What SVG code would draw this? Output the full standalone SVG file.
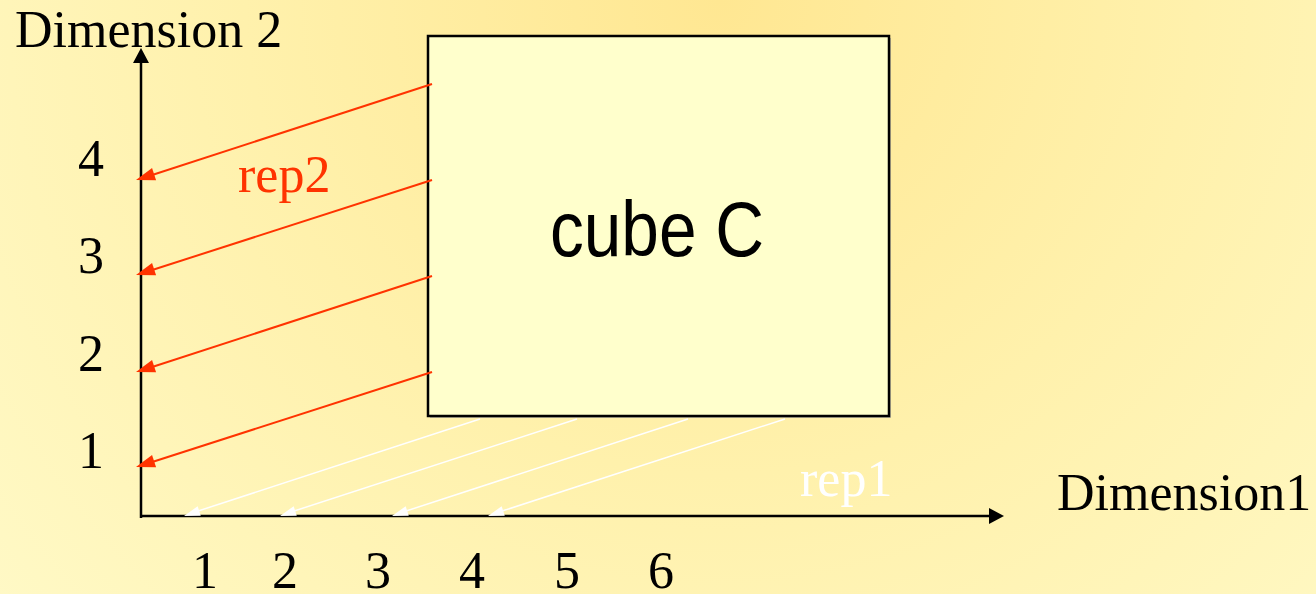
<svg xmlns="http://www.w3.org/2000/svg" width="1316" height="594" viewBox="0 0 1316 594">
<style>
.serif{font-family:"Liberation Serif","Times New Roman",serif;font-size:52px;fill:#000}
.red{fill:#FF3300}
.white{fill:#FFFFFF}
.rline{stroke:#FF3300;stroke-width:2;fill:none}
.wline{stroke:#FFFFFF;stroke-width:1.5;fill:none}
.axis{stroke:#000;stroke-width:2.5;fill:none}
</style>
<defs>
<radialGradient id="bg" gradientUnits="userSpaceOnUse" cx="720" cy="0" r="950">
<stop offset="0" stop-color="#FFE792"/>
<stop offset="0.5" stop-color="#FFF1AC"/>
<stop offset="1" stop-color="#FFF9C6"/>
</radialGradient>
<path id="headRed" d="M0,0 L19,-6.5 L19,6.5 Z" fill="#FF3300"/>
<path id="headWhite" d="M0,0 L16,-5 L16,5 Z" fill="#FFFFFF"/>
<path id="headUp" d="M0,0 L-8,15 L8,15 Z" fill="#000"/>
<path id="headRight" d="M0,0 L-15,-8 L-15,8 Z" fill="#000"/>
</defs>
<rect x="0" y="0" width="1316" height="594" fill="url(#bg)"/>

<g id="cube">
<rect x="430" y="38" width="461" height="380" fill="#999" opacity="0.6"/>
<rect x="428" y="36" width="461" height="380" fill="#FFFFCC" stroke="#000" stroke-width="2.5"/>
<text x="657" y="256" text-anchor="middle" font-family="'Liberation Sans',Arial,sans-serif" font-size="78" textLength="214" lengthAdjust="spacingAndGlyphs">cube C</text>
</g>

<g id="connectors">
<line class="axis" x1="141" y1="518" x2="141" y2="58"/>
<use href="#headUp" x="141" y="48"/>
<line class="axis" x1="140" y1="516" x2="992" y2="516"/>
<use href="#headRight" x="1004" y="516"/>

<line class="rline" x1="432" y1="84" x2="146" y2="177"/>
<use href="#headRed" transform="translate(136,180) rotate(-18)"/>
<line class="rline" x1="432" y1="180" x2="146" y2="272"/>
<use href="#headRed" transform="translate(136,275) rotate(-18)"/>
<line class="rline" x1="432" y1="276" x2="146" y2="369"/>
<use href="#headRed" transform="translate(136,372) rotate(-18)"/>
<line class="rline" x1="432" y1="372" x2="146" y2="464"/>
<use href="#headRed" transform="translate(136,467) rotate(-18)"/>

<line class="wline" x1="480" y1="419" x2="192" y2="513"/>
<use href="#headWhite" transform="translate(184,516) rotate(-18.1)"/>
<line class="wline" x1="577" y1="419" x2="288" y2="513"/>
<use href="#headWhite" transform="translate(280,516) rotate(-18.1)"/>
<line class="wline" x1="688" y1="419" x2="400" y2="513"/>
<use href="#headWhite" transform="translate(392,516) rotate(-18.1)"/>
<line class="wline" x1="785" y1="419" x2="496" y2="513"/>
<use href="#headWhite" transform="translate(488,516) rotate(-18.1)"/>
</g>

<g id="labels">
<text class="serif" x="15" y="47" font-size="54">Dimension 2</text>
<text class="serif" x="1057" y="510" font-size="51">Dimension1</text>
<text class="serif red" x="238" y="192">rep2</text>
<text class="serif white" x="800" y="496">rep1</text>
<g text-anchor="middle">
<text class="serif" x="91" y="176">4</text>
<text class="serif" x="91" y="273">3</text>
<text class="serif" x="91" y="371">2</text>
<text class="serif" x="91" y="468">1</text>
<text class="serif" x="205" y="588">1</text>
<text class="serif" x="285" y="588">2</text>
<text class="serif" x="378" y="588">3</text>
<text class="serif" x="472" y="588">4</text>
<text class="serif" x="567" y="588">5</text>
<text class="serif" x="661" y="588">6</text>
</g>
</g>
</svg>
